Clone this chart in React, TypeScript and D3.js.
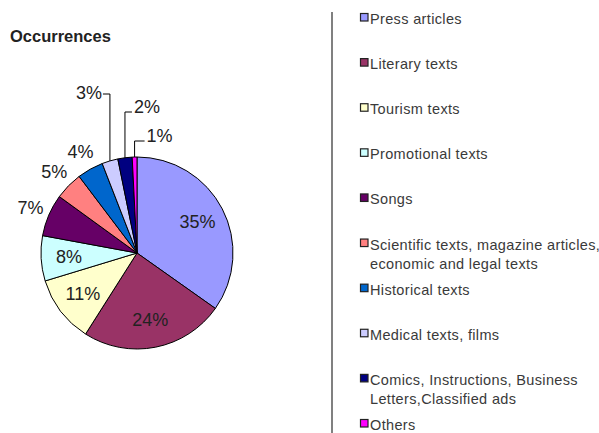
import React from "react";
import * as d3 from "d3";

const categories = [
  "Press articles",
  "Literary texts",
  "Tourism texts",
  "Promotional texts",
  "Songs",
  "Scientific texts, magazine articles, economic and legal texts",
  "Historical texts",
  "Medical texts, films",
  "Comics, Instructions, Business Letters,Classified ads",
  "Others",
];
const values = [34.8, 24.2, 11.3, 7.6, 7.1, 4.7, 4.4, 2.7, 2.4, 0.8];
const colors = [
  "#9999FF",
  "#993366",
  "#FFFFCC",
  "#CCFFFF",
  "#660066",
  "#FF8080",
  "#0066CC",
  "#CCCCFF",
  "#000080",
  "#FF00FF",
];
const legendLines = [
  ["Press articles"],
  ["Literary texts"],
  ["Tourism texts"],
  ["Promotional texts"],
  ["Songs"],
  ["Scientific texts, magazine articles,", "economic and legal texts"],
  ["Historical texts"],
  ["Medical texts, films"],
  ["Comics, Instructions, Business", "Letters,Classified ads"],
  ["Others"],
];
const title = "Occurrences";

const W = 599;
const H = 433;
const cx = 137;
const cy = 253;
const R = 96;
const FONT = "'Liberation Sans', Arial, sans-serif";

const labelMode = ["in", "in", "in", "in", "out", "out", "out", "lead", "lead", "lead"];
const leaderY = [0, 0, 0, 0, 0, 0, 0, 94, 112, 141];
const leaderH = [0, 0, 0, 0, 0, 0, 0, -7, 7, 10];

export default function App() {
  const pie = d3.pie<number>().sort(null).value((d) => d)(values);
  const arc = d3.arc<d3.PieArcDatum<number>>().innerRadius(0).outerRadius(R);
  const inArc = d3.arc<d3.PieArcDatum<number>>().innerRadius(68).outerRadius(68);
  const outArc = d3.arc<d3.PieArcDatum<number>>().innerRadius(116).outerRadius(116);
  const edgeArc = d3.arc<d3.PieArcDatum<number>>().innerRadius(R).outerRadius(R);

  const legendY = d3
    .scalePoint<string>()
    .domain(categories)
    .range([24, 430]);

  return (
    <svg
      width={W}
      height={H}
      style={{ position: "absolute", left: 0, top: 0, background: "#fff" }}
      fontFamily={FONT}
    >
      <rect x={0} y={0} width={W} height={H} fill="#fff" />
      <text x={10} y={42} fontSize={16.5} fontWeight="bold" fill="#222">
        {title}
      </text>
      <g transform={`translate(${cx},${cy})`}>
        {pie.map((p, i) => (
          <path key={i} d={arc(p) || ""} fill={colors[i]} stroke="#000" strokeWidth={1} />
        ))}
        {pie.map((p, i) => {
          const label = `${Math.round(values[i])}%`;
          if (labelMode[i] === "in") {
            const [x, y] = inArc.centroid(p);
            return (
              <text key={"l" + i} x={x} y={y} dy="0.35em" textAnchor="middle" fontSize={18} fill="#222">
                {label}
              </text>
            );
          }
          if (labelMode[i] === "out") {
            const [x, y] = outArc.centroid(p);
            return (
              <text key={"l" + i} x={x} y={y} dy="0.35em" textAnchor="middle" fontSize={18} fill="#222">
                {label}
              </text>
            );
          }
          const [ex, ey] = edgeArc.centroid(p);
          const ly = leaderY[i] - cy;
          const hx = ex + leaderH[i];
          const left = leaderH[i] < 0;
          return (
            <g key={"l" + i}>
              <path
                d={`M${ex},${ey}L${ex},${ly}L${hx},${ly}`}
                fill="none"
                stroke="#000"
                strokeWidth={1}
              />
              <text
                x={hx + (left ? -1 : 2)}
                y={ly}
                dy={left ? "0.3em" : "0.05em"}
                textAnchor={left ? "end" : "start"}
                fontSize={18}
                fill="#222"
              >
                {label}
              </text>
            </g>
          );
        })}
      </g>
      <line x1={332} x2={332} y1={12} y2={H} stroke="#808080" strokeWidth={2} />
      {categories.map((c, i) => {
        const y = legendY(c) as number;
        return (
          <g key={"lg" + i}>
            <rect x={360.5} y={y - 10.5} width={7.5} height={7.5} fill={colors[i]} stroke="#222" strokeWidth={1.2} />
            {legendLines[i].map((t, j) => (
              <text
                key={j}
                x={370}
                y={y + j * 19.5}
                fontSize={14.5}
                letterSpacing={0.35}
                fill="#3a3a3a"
              >
                {t}
              </text>
            ))}
          </g>
        );
      })}
    </svg>
  );
}
